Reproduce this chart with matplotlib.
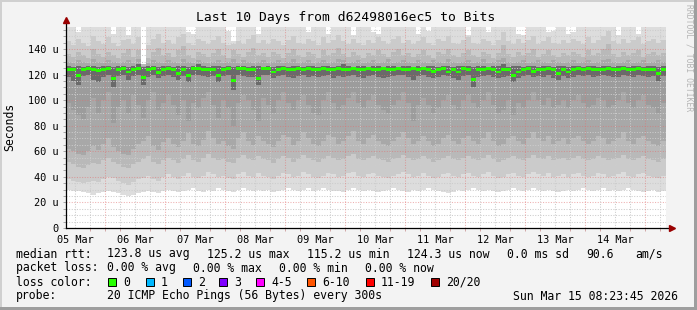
import matplotlib
matplotlib.use('Agg')
import matplotlib.pyplot as plt
import numpy as np
from matplotlib.patches import Rectangle

# x labels (placed at noon of each day), data start = 05 Mar 08:23:45
days = ['05 Mar', '06 Mar', '07 Mar', '08 Mar', '09 Mar',
        '10 Mar', '11 Mar', '12 Mar', '13 Mar', '14 Mar']
y_major = [0, 20, 40, 60, 80, 100, 120, 140]
y_labels = ['0', '20 u', '40 u', '60 u', '80 u', '100 u', '120 u', '140 u']

# median rtt per 2h step (us)
med = [124, 124, 119, 124, 124.5, 124, 123.5, 124, 124.5, 117,
       124, 124.5, 122, 124, 124.5, 117.5, 124, 124.5, 121.5, 124,
       124.5, 124, 120.5, 124, 119, 124.5, 124.5, 124, 124, 124,
       119, 124, 124.5, 115, 124.5, 124.5, 124, 124, 117, 124.5,
       124.5, 122, 124, 124.5, 124, 124, 124.5, 124, 124.5, 124,
       124, 124.5, 124, 124, 124.5, 124, 124, 124.5, 124, 124,
       124.5, 124, 124, 124.5, 124, 124, 124.5, 124, 124, 124.5,
       124, 124.5, 124, 122.5, 124, 124.5, 122, 124, 122, 124.5,
       124, 116.5, 124, 124, 124.5, 124, 122, 124, 124, 119,
       122, 124, 124.5, 122.5, 124, 124, 124.5, 124, 121, 124,
       122, 124, 124.5, 124, 124.5, 124, 124, 124, 124.5, 124,
       124, 124.5, 124, 124, 124.5, 124, 124, 124, 120.5, 124]

# smoke: lower edges of the bands (outer -> inner)
lo1 = [30, 29, 29, 28, 27, 26, 27, 28, 29, 28, 27, 26, 25, 26, 27, 28, 29, 28, 27, 29,
       30, 29, 28, 29, 30, 31, 29, 28, 30, 29, 31, 30, 29, 28, 30, 31, 30, 29, 30, 29,
       30, 28, 29, 30, 31, 30, 29, 30, 31, 29, 30, 31, 30, 29, 29, 28, 30, 31, 30, 29,
       30, 29, 28, 29, 30, 31, 30, 29, 28, 30, 29, 30, 31, 30, 29, 28, 27, 28, 30, 29,
       30, 31, 30, 29, 30, 29, 28, 29, 30, 31, 30, 29, 30, 31, 30, 29, 30, 29, 28, 29,
       30, 29, 30, 31, 30, 29, 30, 31, 29, 30, 29, 30, 31, 30, 29, 28, 29, 30, 28, 29]
lo2 = [38, 37, 36, 35, 36, 37, 36, 38, 40, 39, 37, 35, 34, 36, 38, 39, 41, 38, 37, 40,
       42, 40, 38, 41, 43, 40, 39, 41, 44, 42, 40, 41, 39, 38, 42, 44, 41, 40, 43, 41,
       40, 38, 41, 43, 42, 40, 41, 44, 42, 40, 39, 41, 43, 42, 40, 41, 43, 44, 41, 40,
       42, 43, 41, 40, 39, 41, 42, 44, 42, 40, 41, 43, 41, 39, 40, 42, 43, 41, 40, 42,
       43, 41, 40, 42, 44, 41, 39, 40, 42, 43, 41, 40, 42, 44, 42, 41, 43, 40, 41, 42,
       40, 42, 43, 41, 40, 41, 43, 42, 40, 41, 42, 44, 41, 40, 42, 43, 41, 40, 39, 41]
lo3 = [52, 50, 48, 47, 49, 51, 50, 53, 55, 52, 50, 48, 47, 50, 52, 54, 56, 52, 50, 53,
       55, 53, 51, 54, 57, 53, 52, 55, 58, 55, 53, 54, 52, 51, 55, 57, 54, 53, 56, 54,
       53, 51, 54, 56, 55, 52, 54, 57, 55, 53, 52, 54, 56, 55, 53, 54, 56, 58, 54, 53,
       55, 56, 54, 53, 52, 54, 55, 57, 55, 53, 54, 56, 54, 52, 53, 55, 56, 54, 53, 55,
       56, 54, 53, 55, 57, 54, 52, 53, 55, 56, 54, 53, 55, 57, 55, 54, 56, 53, 54, 55,
       53, 55, 56, 54, 53, 54, 56, 55, 53, 54, 55, 57, 54, 53, 55, 56, 54, 53, 52, 54]
lo4 = [62, 60, 58, 57, 60, 64, 61, 66, 70, 63, 60, 58, 57, 62, 66, 68, 72, 64, 61, 67,
       70, 66, 63, 68, 74, 66, 64, 69, 76, 70, 66, 68, 64, 62, 70, 75, 68, 65, 72, 68,
       66, 63, 68, 73, 71, 65, 68, 75, 70, 66, 64, 68, 73, 71, 66, 68, 72, 76, 68, 66,
       70, 73, 68, 66, 64, 68, 71, 75, 70, 66, 68, 72, 68, 64, 66, 70, 73, 68, 66, 70,
       72, 68, 66, 70, 75, 68, 64, 66, 70, 72, 68, 66, 70, 75, 70, 68, 72, 66, 68, 70,
       66, 70, 72, 68, 66, 68, 72, 70, 66, 68, 70, 75, 68, 66, 70, 72, 68, 66, 64, 68]
lo5 = [98, 92, 88, 85, 95, 102, 90, 100, 106, 82, 95, 100, 90, 104, 96, 86, 100, 106, 92, 98,
       104, 96, 88, 100, 84, 98, 94, 102, 106, 96, 86, 100, 94, 80, 98, 104, 100, 92, 84, 102,
       96, 90, 100, 106, 98, 92, 100, 104, 96, 90, 88, 100, 106, 98, 92, 96, 102, 106, 98, 94,
       100, 104, 96, 92, 90, 96, 100, 106, 98, 84, 96, 102, 96, 90, 94, 100, 104, 96, 92, 100,
       104, 98, 94, 100, 106, 96, 90, 92, 100, 88, 98, 94, 100, 106, 100, 96, 102, 94, 96, 100,
       94, 100, 104, 98, 94, 96, 102, 100, 94, 96, 100, 106, 98, 94, 100, 104, 96, 94, 90, 98]
lo6 = [118, 115, 112, 119, 120, 116, 114, 118, 120, 110, 119, 120, 116, 119, 120, 112, 118, 120, 117, 119,
       120, 118, 116, 119, 114, 120, 120, 119, 118, 119, 114, 119, 120, 108, 120, 119, 118, 118, 112, 120,
       120, 117, 119, 120, 118, 117, 119, 120, 118, 119, 118, 119, 120, 117, 119, 118, 119, 120, 118, 117,
       119, 120, 118, 117, 118, 119, 120, 120, 118, 116, 119, 120, 118, 117, 118, 120, 119, 117, 116, 119,
       120, 110, 118, 119, 120, 118, 117, 118, 119, 114, 117, 119, 120, 118, 119, 118, 120, 117, 116, 119,
       117, 118, 120, 119, 120, 118, 119, 120, 119, 118, 118, 120, 119, 118, 120, 119, 118, 119, 115, 119]

# smoke: upper edges of the bands (outer -> inner)
hi1 = [160, 160, 153, 160, 160, 160, 160, 160, 160, 152, 160, 160, 151, 160, 160, 128, 160, 160, 160, 160,
       160, 160, 160, 160, 153, 152, 160, 160, 160, 160, 160, 160, 154, 146, 160, 160, 160, 160, 152, 160,
       160, 160, 160, 160, 160, 160, 160, 160, 153, 160, 160, 160, 152, 160, 160, 160, 160, 151, 160, 160,
       160, 153, 152, 160, 160, 160, 160, 160, 160, 160, 152, 160, 154, 160, 160, 160, 160, 160, 160, 160,
       151, 160, 160, 160, 153, 160, 160, 160, 160, 160, 152, 151, 160, 160, 160, 160, 153, 154, 160, 160,
       152, 153, 160, 160, 160, 160, 160, 160, 160, 160, 151, 160, 160, 160, 152, 160, 160, 160, 160, 160]
hi2 = [146, 143, 148, 145, 142, 150, 146, 144, 149, 145, 142, 147, 148, 144, 149, 128, 143, 148, 152, 145,
       147, 144, 149, 152, 145, 143, 148, 146, 144, 147, 150, 145, 143, 144, 146, 144, 148, 151, 145, 147,
       144, 148, 146, 143, 147, 150, 145, 144, 148, 146, 143, 149, 145, 147, 151, 146, 144, 148, 145, 143,
       147, 145, 149, 146, 144, 148, 150, 145, 147, 144, 146, 149, 145, 143, 148, 146, 150, 145, 144, 147,
       149, 145, 144, 148, 146, 143, 147, 153, 146, 144, 148, 145, 147, 150, 144, 146, 149, 145, 144, 147,
       145, 148, 146, 144, 149, 145, 147, 150, 154, 146, 144, 148, 145, 147, 149, 144, 146, 148, 145, 147]
hi3 = [136, 134, 138, 135, 133, 140, 136, 134, 138, 135, 133, 137, 140, 134, 139, 128, 133, 138, 141, 135,
       137, 134, 139, 142, 135, 133, 138, 136, 134, 137, 140, 135, 133, 139, 136, 134, 138, 141, 135, 137,
       134, 138, 136, 133, 137, 140, 135, 134, 138, 136, 133, 139, 135, 137, 141, 136, 134, 138, 135, 133,
       137, 135, 139, 136, 134, 138, 140, 135, 137, 134, 136, 139, 135, 133, 138, 136, 140, 135, 134, 137,
       139, 135, 134, 138, 136, 133, 137, 143, 136, 134, 138, 135, 137, 140, 134, 136, 139, 135, 134, 137,
       135, 138, 136, 134, 139, 135, 137, 140, 144, 136, 134, 138, 135, 137, 139, 134, 136, 138, 135, 137]
hi4 = [130, 129, 131, 130, 129, 132, 130, 129, 131, 130, 129, 130, 131, 129, 132, 127, 129, 131, 130, 129,
       131, 130, 129, 132, 130, 129, 131, 130, 129, 130, 131, 129, 130, 132, 129, 131, 130, 129, 130, 131,
       129, 130, 131, 129, 130, 132, 129, 130, 131, 129, 130, 131, 129, 130, 132, 131, 129, 130, 131, 129,
       130, 131, 129, 130, 132, 129, 130, 131, 130, 129, 131, 130, 129, 131, 130, 129, 132, 130, 129, 130,
       131, 129, 130, 132, 129, 130, 131, 133, 130, 129, 130, 131, 129, 130, 131, 130, 129, 131, 130, 129,
       130, 131, 129, 130, 131, 129, 130, 131, 132, 130, 129, 130, 131, 129, 130, 131, 129, 130, 131, 130]
hi5 = [127, 126, 127, 126, 127, 127, 126, 127, 127, 126, 127, 127, 126, 127, 128, 126, 127, 127, 126, 127,
       127, 126, 127, 127, 126, 127, 128, 127, 126, 127, 127, 126, 127, 126, 127, 127, 126, 127, 127, 126,
       127, 126, 127, 127, 126, 127, 127, 126, 127, 127, 126, 127, 127, 126, 127, 128, 127, 126, 127, 127,
       126, 127, 127, 126, 127, 127, 126, 127, 127, 126, 127, 126, 127, 127, 126, 127, 127, 126, 127, 127,
       127, 126, 127, 127, 126, 127, 127, 128, 126, 127, 127, 126, 127, 127, 126, 127, 127, 126, 127, 127,
       126, 127, 127, 126, 127, 127, 126, 127, 127, 126, 127, 127, 126, 127, 127, 126, 127, 127, 126, 127]

loss_labels = ['0', '1', '2', '3', '4-5', '6-10', '11-19', '20/20']
loss_colors = ['#26ff00', '#00b8ff', '#0059ff', '#7e00ff', '#ff00ff', '#ff5500', '#ff0000', '#a00000']

W, H = 697, 310
MONO = 'DejaVu Sans Mono'

t0 = (8 + 23 / 60 + 45 / 3600) / 24
n = len(med)
edges = t0 + np.arange(n + 1) * 10.0 / n
centers = (edges[:-1] + edges[1:]) / 2

fig = plt.figure(figsize=(W / 100, H / 100), dpi=100, facecolor='#f3f3f3')
# frame shading
fig.add_artist(Rectangle((0, 1 - 2 / H), 1, 2 / H, transform=fig.transFigure, fc='#d0d0d0', lw=0))
fig.add_artist(Rectangle((0, 0), 2 / W, 1, transform=fig.transFigure, fc='#d0d0d0', lw=0))
fig.add_artist(Rectangle((0, 0), 1, 3 / H, transform=fig.transFigure, fc='#9e9e9e', lw=0))
fig.add_artist(Rectangle((1 - 3 / W, 0), 3 / W, 1, transform=fig.transFigure, fc='#9e9e9e', lw=0))

ax = fig.add_axes([66 / W, 1 - 228 / H, 600 / W, 201 / H])
ax.set_facecolor('white')
ax.set_xlim(t0, t0 + 10)
ax.set_ylim(0, 157.2)

bands = [(lo1, hi1, '#dddddd'), (lo2, hi2, '#cbcbcb'), (lo3, hi3, '#b9b9b9'),
         (lo4, hi4, '#a8a8a8'), (lo5, hi5, '#9c9c9c'), (lo6, hi5, '#6a6a6a')]
for lo, hi, c in bands:
    ax.stairs(hi, edges, baseline=lo, fill=True, color=c, lw=0, zorder=1)

# grid on top of smoke
for v in np.arange(5, 157, 5):
    if v % 20 == 0:
        ax.axhline(v, color='#e07070', alpha=0.55, lw=0.75, ls=(0, (1, 1.5)), zorder=2)
    else:
        ax.axhline(v, color='#cccccc', lw=0.75, ls=(0, (1, 1.5)), zorder=2)
for v in np.arange(0.25, 11, 0.25):
    if v <= t0 or v >= t0 + 10:
        continue
    if v % 1 == 0:
        ax.axvline(v, color='#e07070', alpha=0.55, lw=0.75, ls=(0, (1, 1.5)), zorder=2)
    else:
        ax.axvline(v, color='#cccccc', lw=0.75, ls=(0, (1, 1.5)), zorder=2)

# median
ax.bar(centers, 2.3, bottom=np.array(med) - 1.15, width=10.0 / n, color='#26ff00', lw=0, zorder=3)

for s in ax.spines.values():
    s.set_visible(False)
ax.plot([0, 0], [0, 1.035], transform=ax.transAxes, color='black', lw=0.9, clip_on=False, zorder=5)
ax.plot([0, 1.01], [0, 0], transform=ax.transAxes, color='black', lw=0.9, clip_on=False, zorder=5)
ax.plot(0, 1.035, marker='^', color='#990000', ms=4, transform=ax.transAxes, clip_on=False, zorder=6)
ax.plot(1.01, 0, marker='>', color='#990000', ms=4, transform=ax.transAxes, clip_on=False, zorder=6)

ax.set_yticks(y_major, labels=y_labels)
ax.set_yticks(np.arange(5, 157, 5), minor=True)
ax.set_xticks(np.arange(10) + 0.5, labels=days)
ax.set_xticks([v for v in np.arange(0.25, 11, 0.25) if t0 < v < t0 + 10], minor=True)
ax.tick_params(axis='both', which='major', labelsize=7.4, colors='black')
ax.tick_params(axis='y', which='both', length=2.5, width=0.6, color='#999999', pad=3)
ax.tick_params(axis='x', which='major', length=0, pad=5)
ax.tick_params(axis='x', which='minor', length=2, width=0.6, color='#cc9999')
for lab in ax.get_xticklabels() + ax.get_yticklabels():
    lab.set_family(MONO)

def put(x, y, s, **kw):
    kw.setdefault('fontsize', 8.3)
    kw.setdefault('family', MONO)
    kw.setdefault('va', 'center')
    kw.setdefault('ha', 'left')
    fig.text(x / W, 1 - y / H, s, **kw)

put(346, 18, 'Last 10 Days from d62498016ec5 to Bits', fontsize=9.4, ha='center')
put(10, 127, 'Seconds', rotation=90, ha='center')
put(689, 58, 'RRDTOOL / TOBI OETIKER', rotation=270, ha='center', fontsize=5.8, color='#b5b5b5')

put(16, 254, 'median rtt:')
for x, s in [(107, '123.8 us avg'), (207, '125.2 us max'), (307, '115.2 us min'),
             (407, '124.3 us now'), (507, '0.0 ms sd'), (586, '90.6'), (635, 'am/s')]:
    put(x, 254, s)
put(16, 268, 'packet loss:')
for x, s in [(107, '0.00 % avg'), (193, '0.00 % max'), (279, '0.00 % min'), (365, '0.00 % now')]:
    put(x, 268, s)
put(16, 282, 'loss color:')
box_x = [108, 146, 183, 219, 256, 307, 366, 431]
for bx, lab, c in zip(box_x, loss_labels, loss_colors):
    fig.add_artist(Rectangle((bx / W, 1 - 286 / H), 8 / W, 8 / H, transform=fig.transFigure,
                             fc=c, ec='black', lw=0.7))
    put(bx + 15, 282, lab)
put(16, 296, 'probe:')
put(107, 296, '20 ICMP Echo Pings (56 Bytes) every 300s')
put(513, 296, 'Sun Mar 15 08:23:45 2026')

fig.savefig('out.png', dpi=100, facecolor=fig.get_facecolor())
